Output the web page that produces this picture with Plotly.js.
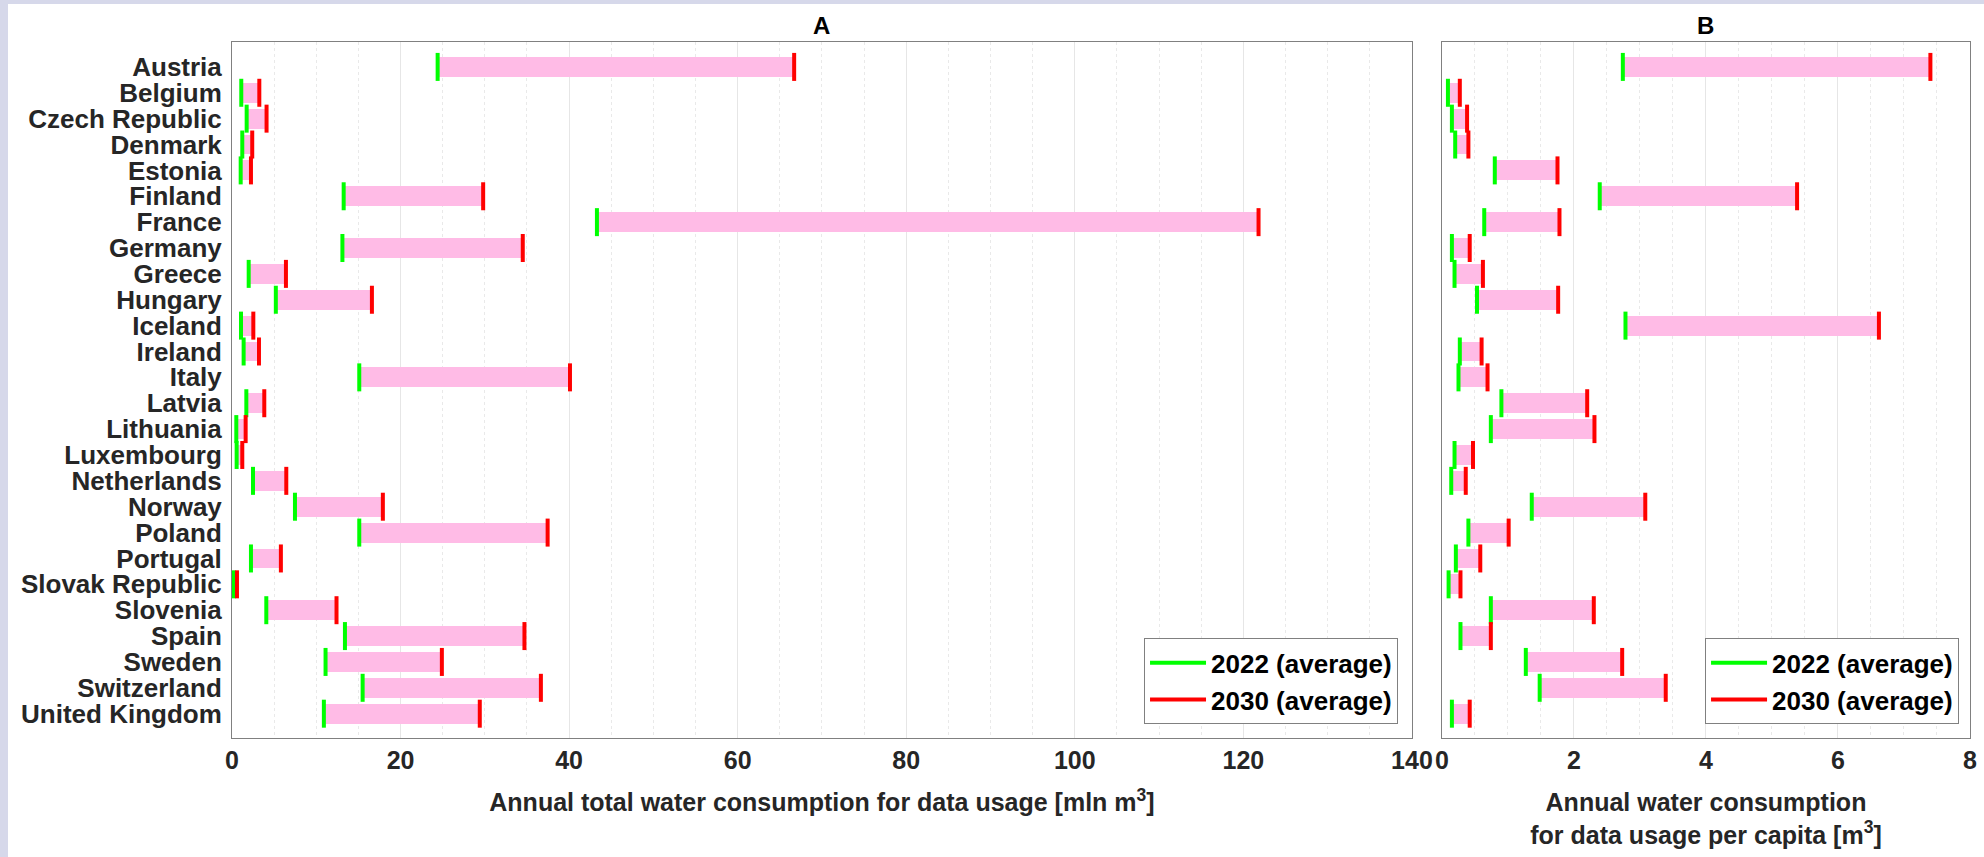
<!DOCTYPE html>
<html>
<head>
<meta charset="utf-8">
<script src="https://cdn.plot.ly/plotly-3.0.1.min.js"></script>
<style>
  html, body { margin: 0; padding: 0; width: 1984px; height: 857px; overflow: hidden; background: #d6d8ea; }
  #chart { position: absolute; left: 8px; top: 4px; width: 1976px; height: 853px; background: #ffffff; }
</style>
</head>
<body>
<div id="chart"></div>
<script>
const countries = ["Austria", "Belgium", "Czech Republic", "Denmark", "Estonia", "Finland", "France", "Germany", "Greece", "Hungary", "Iceland", "Ireland", "Italy", "Latvia", "Lithuania", "Luxembourg", "Netherlands", "Norway", "Poland", "Portugal", "Slovak Republic", "Slovenia", "Spain", "Sweden", "Switzerland", "United Kingdom"];

// Panel A: annual total water consumption [mln m3]
const total2022 = [24.4, 1.1, 1.74, 1.22, 1.03, 13.25, 43.3, 13.1, 1.98, 5.2, 1.07, 1.38, 15.1, 1.7, 0.51, 0.55, 2.49, 7.47, 15.1, 2.25, 0.2, 4.07, 13.4, 11.1, 15.5, 10.9];
const total2030 = [66.7, 3.24, 4.1, 2.4, 2.25, 29.8, 121.8, 34.5, 6.4, 16.6, 2.53, 3.2, 40.1, 3.83, 1.62, 1.22, 6.44, 17.9, 37.45, 5.8, 0.59, 12.4, 34.7, 24.9, 36.65, 29.4];

// Panel B: annual water consumption per capita [m3]
const perCapita2022 = [2.74, 0.09, 0.15, 0.2, 0.8, 2.39, 0.64, 0.15, 0.19, 0.53, 2.78, 0.27, 0.25, 0.9, 0.74, 0.19, 0.14, 1.36, 0.4, 0.21, 0.1, 0.74, 0.28, 1.27, 1.48, 0.15];
const perCapita2030 = [7.40, 0.27, 0.38, 0.4, 1.75, 5.38, 1.78, 0.42, 0.62, 1.76, 6.62, 0.6, 0.69, 2.2, 2.31, 0.47, 0.36, 3.08, 1.01, 0.58, 0.28, 2.30, 0.74, 2.73, 3.39, 0.42];

const ticksA = [0, 20, 40, 60, 80, 100, 120, 140];
const ticksB = [0, 2, 4, 6, 8];
const seriesNames = ["2022 (average)", "2030 (average)"];

const PINK = "#FFBBE6", GREEN = "#00FF00", RED = "#FF0000";
const FONT = "Liberation Sans, Arial, Helvetica, sans-serif";

function panelTraces(v22, v30, xa, ya, legendId) {
  return [
    {
      type: "bar", orientation: "h", y: countries,
      base: v22, x: v30.map((v, i) => v - v22[i]),
      width: 0.77, marker: { color: PINK, line: { width: 0 } },
      xaxis: xa, yaxis: ya, showlegend: false, hoverinfo: "skip"
    },
    {
      type: "scatter", mode: "markers", y: countries, x: v22,
      marker: { symbol: "line-ns", size: 20, line: { color: GREEN, width: 4 } },
      xaxis: xa, yaxis: ya, showlegend: false
    },
    {
      type: "scatter", mode: "markers", y: countries, x: v30,
      marker: { symbol: "line-ns", size: 20, line: { color: RED, width: 4 } },
      xaxis: xa, yaxis: ya, showlegend: false
    },
    {
      type: "scatter", mode: "lines", x: [null], y: [null], name: seriesNames[0],
      line: { color: GREEN, width: 4 }, xaxis: xa, yaxis: ya, legend: legendId
    },
    {
      type: "scatter", mode: "lines", x: [null], y: [null], name: seriesNames[1],
      line: { color: RED, width: 4 }, xaxis: xa, yaxis: ya, legend: legendId
    }
  ];
}

const data = [].concat(
  panelTraces(total2022, total2030, "x", "y", "legend"),
  panelTraces(perCapita2022, perCapita2030, "x2", "y2", "legend2")
);

const tickFont = { family: FONT, size: 25, color: "#262626", weight: "bold" };
const axisBox = { showline: true, mirror: true, linecolor: "#808080", linewidth: 1, ticks: "" };
const yRange = [25.94, -0.963];

const legendCommon = {
  font: { family: FONT, size: 26, color: "#000000", weight: "bold" },
  bgcolor: "#ffffff", bordercolor: "#808080", borderwidth: 1,
  xanchor: "right", yanchor: "bottom", y: 0.0197,
  itemwidth: 56, tracegroupgap: 0
};

const layout = {
  width: 1976, height: 853,
  margin: { l: 224, r: 14, t: 38, b: 119 },
  paper_bgcolor: "#ffffff", plot_bgcolor: "#ffffff",
  bargap: 0, barmode: "overlay",
  xaxis: Object.assign({}, axisBox, {
    domain: [0, 0.6789], range: [0, 140], tickvals: ticksA, ticktext: ticksA.map(String),
    zeroline: false, showgrid: true, gridcolor: "#e6e6e6", gridwidth: 1,
    minor: { dtick: 5, showgrid: true, gridcolor: "#e9e9e9", griddash: "dot", gridwidth: 1 },
    tickfont: tickFont,
    title: { text: "Annual total water consumption for data usage [mln m<sup>3</sup>]",
             font: { family: FONT, size: 25, color: "#262626", weight: "bold" }, standoff: 20 }
  }),
  yaxis: Object.assign({}, axisBox, {
    type: "category", range: yRange, showgrid: false, zeroline: false,
    tickmode: "array", tickvals: countries, ticktext: countries,
    tickfont: { family: FONT, size: 26, color: "#262626", weight: "bold" },
    ticklabelstandoff: 4
  }),
  xaxis2: Object.assign({}, axisBox, {
    domain: [0.6962, 1], range: [0, 8], tickvals: ticksB, ticktext: ticksB.map(String),
    zeroline: false, showgrid: true, gridcolor: "#e6e6e6", gridwidth: 1,
    minor: { dtick: 0.5, showgrid: true, gridcolor: "#e9e9e9", griddash: "dot", gridwidth: 1 },
    tickfont: tickFont, anchor: "y2",
    title: { text: "Annual water consumption<br>for data usage per capita [m<sup>3</sup>]",
             font: { family: FONT, size: 25, color: "#262626", weight: "bold" }, standoff: 20 }
  }),
  yaxis2: Object.assign({}, axisBox, {
    type: "category", range: yRange, showgrid: false, zeroline: false,
    tickmode: "array", tickvals: countries,
    showticklabels: false, anchor: "x2"
  }),
  legend: Object.assign({}, legendCommon, { x: 0.6709 }),
  legend2: Object.assign({}, legendCommon, { x: 0.9937 }),
  annotations: [
    { text: "A", xref: "paper", yref: "paper", x: 0.33945, y: 1.0237, xanchor: "center", yanchor: "middle",
      showarrow: false, font: { family: FONT, size: 24, color: "#000000", weight: "bold" } },
    { text: "B", xref: "paper", yref: "paper", x: 0.8481, y: 1.0237, xanchor: "center", yanchor: "middle",
      showarrow: false, font: { family: FONT, size: 24, color: "#000000", weight: "bold" } }
  ]
};

Plotly.newPlot("chart", data, layout, { displayModeBar: false, staticPlot: true });
</script>
</body>
</html>
